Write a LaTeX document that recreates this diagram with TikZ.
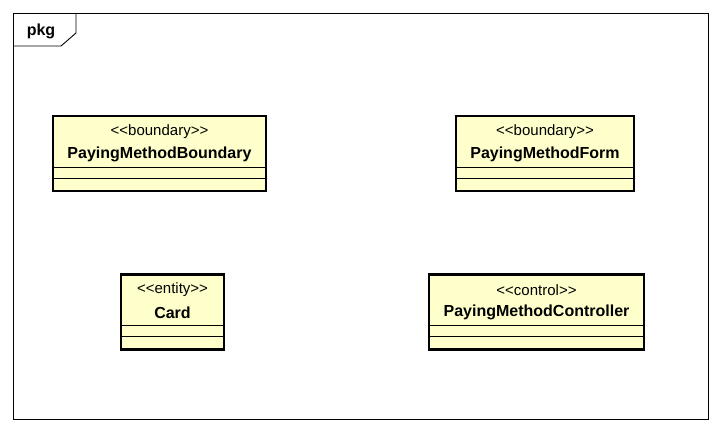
\documentclass[tikz,border=0pt]{standalone}
\usepackage{fontspec}
\setmainfont{Liberation Sans}
\usepackage{tikz}
\usetikzlibrary{calc}
\definecolor{classfill}{RGB}{255,255,204}
\tikzstyle{frame}=[draw=black, line width=0.9pt]
\tikzstyle{classbox}=[draw=black, line width=2.4pt, fill=classfill, minimum height=75pt, inner sep=0pt]
\tikzstyle{compline}=[draw=black, line width=0.9pt]
\tikzstyle{stereo}=[font=\fontsize{15}{17}\selectfont, inner sep=0pt]
\tikzstyle{title}=[font=\fontsize{16}{18}\selectfont\bfseries, inner sep=0pt]
\newcommand{\classBox}[5]{
	\node[classbox, minimum width=#3pt] (#1) at #2 {};
	\node[stereo] (#1-st) at ($(#1.north)+(0,16.5)$) {<\kern0pt<#4>\kern0pt>};
	\node[title] (#1-name) at ($(#1.north)+(0,39.5)$) {#5};
	\draw[compline] ($(#1.south west)+(1.2,-25)$) -- ($(#1.south east)+(-1.2,-25)$);
	\draw[compline] ($(#1.south west)+(1.2,-14)$) -- ($(#1.south east)+(-1.2,-14)$);
}

\begin{document}
\begin{tikzpicture}[x=1pt, y=-1pt]
	\useasboundingbox (0,0) rectangle (721,433);
%
	\draw[frame] (13,13) rectangle (708,419);
	\draw[frame] (13,46) -- (61,46) -- (76,33) -- (76,13);
	\node[title] (pkg) at (41,31) {pkg};
%
	\classBox{boundary}{(159.5,153.5)}{213}{boundary}{PayingMethodBoundary}
	\classBox{form}{(545,153.5)}{178}{boundary}{PayingMethodForm}
	\classBox{card}{(172.5,312)}{103}{entity}{Card}
	\classBox{controller}{(536.5,312)}{215}{control}{PayingMethodController}
\end{tikzpicture}
\end{document}
